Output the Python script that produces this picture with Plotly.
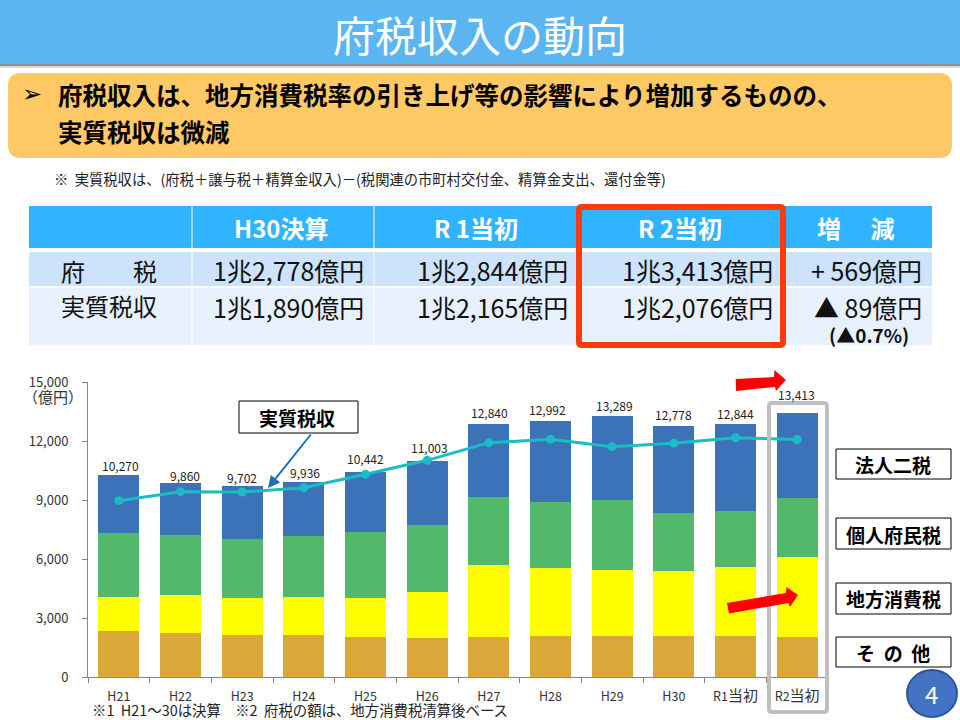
import plotly.graph_objects as go

# chart data (億円)
years = ['H21', 'H22', 'H23', 'H24', 'H25', 'H26', 'H27', 'H28', 'H29', 'H30', 'R1当初', 'R2当初']
sonota = [2339, 2237, 2136, 2136, 2034, 1983, 2034, 2085, 2085, 2085, 2085, 2034]
chihou_shouhi = [1729, 1933, 1881, 1932, 1983, 2339, 3661, 3457, 3356, 3305, 3508, 4068]
kojin = [3254, 3050, 3000, 3101, 3356, 3407, 3458, 3356, 3559, 2949, 2848, 3000]
houjin = [2948, 2640, 2685, 2767, 3069, 3274, 3687, 4094, 4289, 4439, 4403, 4311]
totals = [10270, 9860, 9702, 9936, 10442, 11003, 12840, 12992, 13289, 12778, 12844, 13413]
jisshitsu = [8966, 9424, 9407, 9627, 10305, 11017, 11915, 12085, 11712, 11890, 12165, 12076]
y_ticks = [0, 3000, 6000, 9000, 12000, 15000]

# table text
table_head = ['H30決算', 'R 1当初', 'R 2当初', '増　\u00a0減']
row_fuzei = ['1兆2,778億円', '1兆2,844億円', '1兆3,413億円', '+ 569億円']
row_jisshitsu = ['1兆1,890億円', '1兆2,165億円', '1兆2,076億円', '▲ 89億円']

FONT = 'Noto Sans CJK JP'
W, H = 960, 720
L, R, T, B = 88, 828, 382, 677


def px(x):
    return (x - L) / (R - L)


def py(y):
    return (B - y) / (B - T)


def rect(x0, y0, x1, y1, fill='rgba(0,0,0,0)', line=None, lw=1):
    return dict(type='rect', xref='paper', yref='paper', x0=px(x0), x1=px(x1), y0=py(y0), y1=py(y1),
                fillcolor=fill, line=dict(color=line, width=lw if line else 0))


def poly(points, fill):
    d = 'M' + ' L'.join(f'{px(a):.4f},{py(b):.4f}' for a, b in points) + ' Z'
    return dict(type='path', xref='paper', yref='paper', path=d, fillcolor=fill, line=dict(width=0))


def round_rect(x0, y0, x1, y1, r, fill='rgba(0,0,0,0)', line=None, lw=1):
    p = [('M', x0 + r, y0), ('L', x1 - r, y0), ('Q', x1, y0, x1, y0 + r), ('L', x1, y1 - r),
         ('Q', x1, y1, x1 - r, y1), ('L', x0 + r, y1), ('Q', x0, y1, x0, y1 - r), ('L', x0, y0 + r),
         ('Q', x0, y0, x0 + r, y0)]
    d = ''
    for seg in p:
        vals = seg[1:]
        coords = []
        for i in range(0, len(vals), 2):
            coords.append(f'{px(vals[i]):.4f},{py(vals[i + 1]):.4f}')
        d += seg[0] + ' '.join(coords) + ' '
    return dict(type='path', xref='paper', yref='paper', path=d + 'Z', fillcolor=fill,
                line=dict(color=line, width=lw if line else 0))


def txt(x, y, text, size, color='#111111', anchor='center', family=FONT):
    return dict(xref='paper', yref='paper', x=px(x), y=py(y), text=text, showarrow=False,
                xanchor=anchor, yanchor='middle', font=dict(family=family, size=size, color=color))


fig = go.Figure()
for vals, col, name in [(sonota, '#D9A838', 'その他'), (chihou_shouhi, '#FFFF00', '地方消費税'),
                        (kojin, '#52B86C', '個人府民税'), (houjin, '#3B72B8', '法人二税')]:
    fig.add_trace(go.Bar(x=years, y=vals, marker=dict(color=col, line=dict(width=0)), name=name))
fig.add_trace(go.Scatter(x=years, y=jisshitsu, mode='lines+markers', name='実質税収',
                         line=dict(color='#1CBCC4', width=3), marker=dict(color='#1CBCC4', size=9)))

shapes = [
    rect(0, 0, 960, 64, fill='#5BB5F0'),
    rect(0, 64, 960, 66, fill='#8A8F94'),
    rect(0, 66, 960, 68, fill='#DADADA'),
    round_rect(8, 73, 952, 158, 13, fill='#FFC966'),
    # table
    rect(29, 206, 932, 248, fill='#31B4FF'),
    rect(29, 252, 932, 286, fill='#CCE3FB'),
    rect(29, 288, 932, 345, fill='#E7F1FD'),
]
for xs in [192, 374, 784]:
    shapes.append(rect(xs - 0.5, 206, xs + 0.5, 345, fill='#FFFFFF'))
shapes.append(round_rect(579, 207, 783, 345, 3, line='#FF3A0A', lw=6))

# chart overlays
shapes.append(round_rect(769, 403, 827, 712, 3, line='#BFBFBF', lw=4))
shapes.append(poly([(735.7, 379), (774, 377), (774.5, 370), (786, 380), (776, 391), (775, 387), (736, 391)], '#FF0000'))
shapes.append(poly([(727, 603), (786, 593), (786.5, 587), (798, 595), (790, 607), (788.5, 603), (729, 613.5)], '#FF0000'))
shapes.append(rect(239, 401, 358, 433, fill='#FFFFFF', line='#000000'))
for y0, y1 in [(449, 479), (518, 549), (583, 614), (637, 667)]:
    shapes.append(rect(836, y0, 951, y1, fill='#FFFFFF', line='#000000'))
shapes.append(dict(type='circle', xref='paper', yref='paper', x0=px(907), x1=px(957), y0=py(670), y1=py(717),
                   fillcolor='#4472C4', line=dict(color='#2F5597', width=2)))

ann = [
    txt(480, 33, '府税収入の動向', 42, '#FFFFFF'),
    txt(31.5, 94, '➢', 24, '#000000', family='DejaVu Sans'),
    txt(56, 94, '<b>府税収入は、地方消費税率の引き上げ等の影響により増加するものの、</b>', 24.5, '#000000', 'left'),
    txt(56, 131, '<b>実質税収は微減</b>', 24.5, '#000000', 'left'),
    txt(52, 178, '※  実質税収は、(府税＋譲与税＋精算金収入)－(税関連の市町村交付金、精算金支出、還付金等)', 14.3, '#222222', 'left'),
    txt(109, 270, '府　　税', 24),
    txt(109, 305, '実質税収', 24),
    txt(869, 334, '<b>(▲0.7%)</b>', 19),
    txt(53, 396, '（億円）', 15, '#333333'),
    txt(297, 417, '<b>実質税収</b>', 19, '#000000'),
    txt(893, 464, '<b>法人二税</b>', 19, '#000000'),
    txt(893, 534, '<b>個人府民税</b>', 19, '#000000'),
    txt(893, 598, '<b>地方消費税</b>', 19, '#000000'),
    txt(893, 652, '<b>そ\u00a0\u00a0の\u00a0\u00a0他</b>', 19, '#000000'),
    txt(931.5, 693, '4', 24, '#FFFFFF'),
    txt(90, 709.5, '※1  H21～30は決算　※2  府税の額は、地方消費税清算後ベース', 14.4, '#222222', 'left'),
]
head_x = [281, 476, 680, 855]
for x, t in zip(head_x, table_head):
    ann.append(txt(x, 227, f'<b>{t}</b>', 24, '#FFFFFF'))
right_x = [366, 570, 775, 924]
for x, a, b in zip(right_x, row_fuzei, row_jisshitsu):
    ann.append(txt(x, 270, a, 25, anchor='right'))
    ann.append(txt(x, 307, b, 25, anchor='right'))

# total labels above the bars, nudged by hand like on the slide
label_dx = [2, 4.5, 0, 1.3, 0, 2, 1, -2.7, 2, 0, 0, -1]
label_dy = [9.3, 7.3, 8.7, 9.3, 12.7, 12.7, 11.7, 12, 9.7, 11, 10.7, 18.7]
for name, v, dx, dy in zip(years, totals, label_dx, label_dy):
    ann.append(dict(x=name, y=v, xref='x', yref='y', text=f'{v:,}', showarrow=False, yanchor='middle',
                    xshift=dx, yshift=dy, font=dict(family=FONT, size=12, color='#222222')))

# arrow from the 実質税収 box to the line
ann.append(dict(xref='paper', yref='paper', x=px(268), y=py(488), ax=44, ay=-55, axref='pixel', ayref='pixel',
                text='', showarrow=True, arrowhead=2, arrowsize=1.2, arrowwidth=2, arrowcolor='#1F6FB5'))

# R1/R2 ticks have a bigger 当初
tick_text = [y.replace('当初', '<span style="font-size:15px">当初</span>') for y in years]

fig.update_layout(
    width=W, height=H, barmode='stack', bargap=0.335, showlegend=False,
    paper_bgcolor='#FFFFFF', plot_bgcolor='#FFFFFF',
    margin=dict(l=L, r=W - R, t=T, b=H - B, pad=0, autoexpand=False),
    font=dict(family=FONT, size=12, color='#333333'),
    shapes=shapes, annotations=ann,
)
fig.update_xaxes(range=[-0.5, 11.5], tickvals=years, ticktext=tick_text, tickson='boundaries', ticks='outside',
                 ticklen=5, tickcolor='#868686', showline=True, linecolor='#868686', showgrid=False,
                 tickfont=dict(size=12.5), ticklabelstandoff=8)
fig.update_yaxes(range=[0, 15000], tickvals=y_ticks, tickformat=',', ticks='outside', ticklen=5, tickcolor='#868686',
                 showline=True, linecolor='#868686', showgrid=False, zeroline=False,
                 tickfont=dict(size=13), ticklabelstandoff=11)

fig.write_html('out.html', config={'displayModeBar': False}, post_script="document.body.style.margin='0';")
